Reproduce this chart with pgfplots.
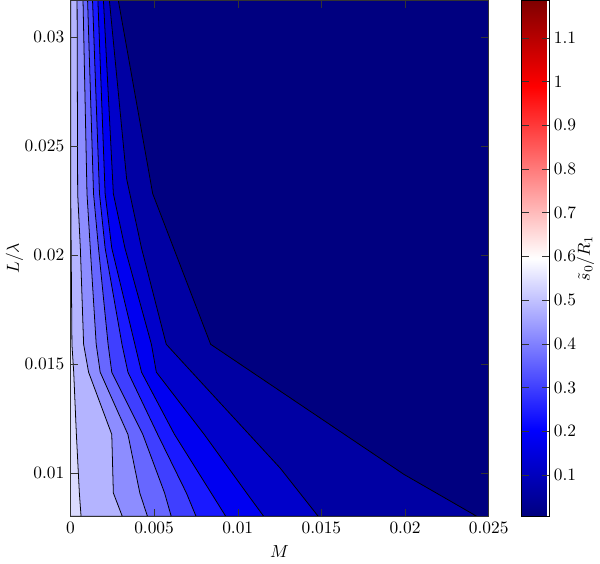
\documentclass[border=0pt]{standalone}
\usepackage{pgfplots}
\pgfplotsset{compat=1.18}

% band colours, lowest level first
\definecolor{b1}{rgb}{0,0,0.5}
\definecolor{b2}{rgb}{0,0,0.64}
\definecolor{b3}{rgb}{0,0,0.792}
\definecolor{b4}{rgb}{0,0,0.9445}
\definecolor{b5}{rgb}{0.097,0.097,1}
\definecolor{b6}{rgb}{0.249,0.249,1}
\definecolor{b7}{rgb}{0.402,0.402,1}
\definecolor{b8}{rgb}{0.554,0.554,1}
\definecolor{b9}{rgb}{0.707,0.707,1}
\definecolor{b10}{rgb}{0.859,0.859,1}

\begin{document}
\begin{tikzpicture}
\begin{axis}[
    scale only axis,
    width=240.5pt, height=296.7pt,
    xmin=0, xmax=0.025,
    ymin=0.008, ymax=0.0317,
    xtick={0,0.005,0.01,0.015,0.02,0.025},
    ytick={0.01,0.015,0.02,0.025,0.03},
    scaled ticks=false,
    xticklabel style={/pgf/number format/fixed, /pgf/number format/precision=3},
    yticklabel style={/pgf/number format/fixed, /pgf/number format/precision=3},
    xlabel={$M$},
    ylabel={$L/\lambda$},
    ylabel shift=-6pt,
    axis background/.style={fill=b1},
    axis on top,
    axis line style={black!80},
    tick style={black!80},
    colormap={bwr}{rgb(0cm)=(0,0,0.5) rgb(1cm)=(0,0,1) rgb(3cm)=(1,1,1) rgb(5cm)=(1,0,0) rgb(6cm)=(0.5,0,0)},
    colorbar,
    point meta min=0.005, point meta max=1.186,
    colorbar style={
        width=16pt,
        at={(parent axis.north east)}, anchor=north west, xshift=10.5pt,
        ytick={0.1,0.2,0.3,0.4,0.5,0.6,0.7,0.8,0.9,1,1.1},
        yticklabel style={/pgf/number format/fixed, xshift=-1pt},
        ylabel={$\tilde{s}_0/R_1$},
        ylabel shift=-6.5pt,
    },
]

% each region: contour line from top to bottom, closed through the left corners
\addplot[fill=b2, draw=black, line width=0.45pt] coordinates {
    (0.002861,0.0317) (0.004917,0.02282) (0.008382,0.0159)
    (0.019946,0.00992) (0.024288,0.008)
    (0,0.008) (0,0.0317)
};
\addplot[fill=b3, draw=black, line width=0.45pt] coordinates {
    (0.002328,0.0317) (0.003359,0.0235) (0.004248,0.02032) (0.005728,0.0159)
    (0.007257,0.01462) (0.012541,0.01021) (0.01481,0.008)
    (0,0.008) (0,0.0317)
};
\addplot[fill=b4, draw=black, line width=0.45pt] coordinates {
    (0.001973,0.0317) (0.002565,0.02282) (0.003258,0.02032) (0.00484,0.0159)
    (0.005136,0.01462) (0.007997,0.01176) (0.010663,0.00893) (0.011552,0.008)
    (0,0.008) (0,0.0317)
};
\addplot[fill=b5, draw=black, line width=0.45pt] coordinates {
    (0.001641,0.0317) (0.002073,0.02282) (0.00247,0.02032) (0.003851,0.0159)
    (0.004248,0.01462) (0.00622,0.01176) (0.008412,0.00907) (0.009283,0.008)
    (0,0.008) (0,0.0317)
};
\addplot[fill=b6, draw=black, line width=0.45pt] coordinates {
    (0.001321,0.0317) (0.001736,0.02282) (0.002073,0.02032) (0.00308,0.0159)
    (0.003436,0.01462) (0.005213,0.01176) (0.006931,0.00907) (0.007506,0.008)
    (0,0.008) (0,0.0317)
};
\addplot[fill=b7, draw=black, line width=0.45pt] coordinates {
    (0.001025,0.0317) (0.00138,0.02282) (0.001676,0.02032) (0.002251,0.0159)
    (0.00247,0.01462) (0.004325,0.01176) (0.005628,0.00907) (0.006025,0.008)
    (0,0.008) (0,0.0317)
};
\addplot[fill=b8, draw=black, line width=0.45pt] coordinates {
    (0.000752,0.0317) (0.000989,0.02282) (0.001185,0.02032) (0.00154,0.0159)
    (0.001777,0.01462) (0.003436,0.01176) (0.004147,0.00907) (0.004603,0.008)
    (0,0.008) (0,0.0317)
};
\addplot[fill=b9, draw=black, line width=0.45pt] coordinates {
    (0.000397,0.0317) (0.000432,0.02282) (0.000592,0.02032) (0.000788,0.0159)
    (0.001084,0.01462) (0.00247,0.01176) (0.002565,0.00907) (0.003098,0.008)
    (0,0.008) (0,0.0317)
};
\addplot[fill=b10, draw=black, line width=0.45pt] coordinates {
    (0.000018,0.0317) (0.000018,0.02282) (0.000089,0.0159) (0.000195,0.01462)
    (0.000355,0.01176) (0.000533,0.00907) (0.000634,0.008)
    (0,0.008) (0,0.0317)
};

\end{axis}
\end{tikzpicture}
\end{document}
